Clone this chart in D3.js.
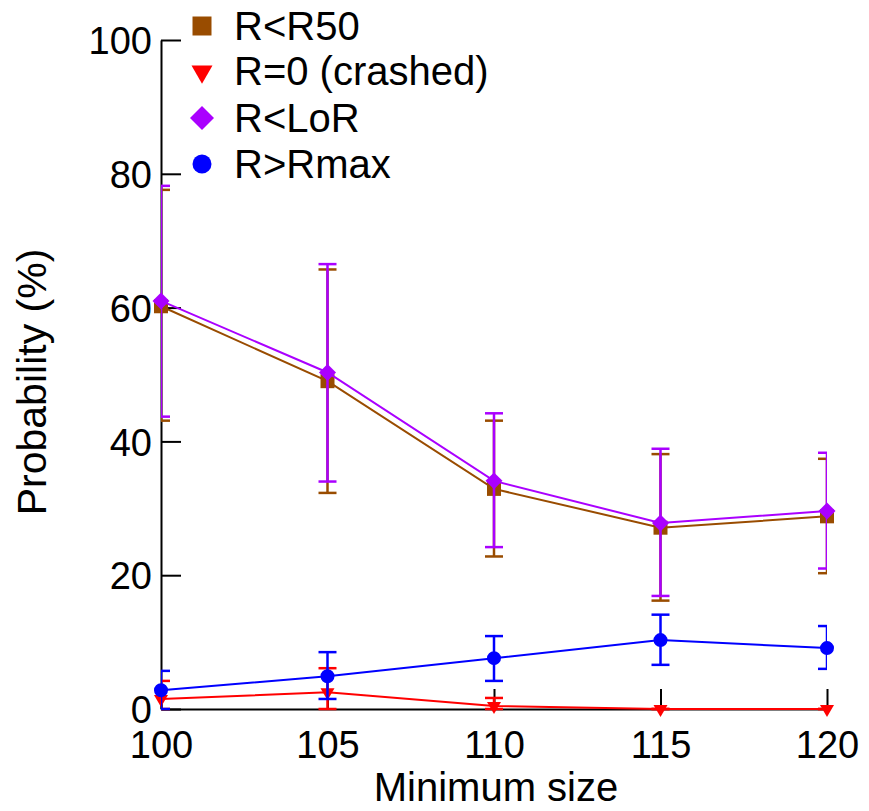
<!DOCTYPE html>
<html><head><meta charset="utf-8">
<script src="https://cdn.jsdelivr.net/npm/d3@7"></script>
<style>body{margin:0;background:#fff}svg{display:block}text{font-family:"Liberation Sans",Arial,sans-serif;fill:#000}</style>
</head><body>
<svg id="c" width="869" height="811"></svg>
<script>
const xValues = [100, 105, 110, 115, 120];
const xTicks = [100, 105, 110, 115, 120];
const yTicks = [0, 20, 40, 60, 80, 100];

const r50Mean = [60.2, 49.0, 32.9, 27.1, 28.8];
const r50Lo   = [43.1, 32.3, 22.8, 16.2, 20.3];
const r50Hi   = [77.6, 65.7, 43.1, 38.1, 37.4];

const crashMean = [1.5, 2.5, 0.45, 0, 0];
const crashLo   = [0, 0, 0, 0, 0];
const crashHi   = [4.2, 6.1, 1.65, 0, 0];

const lorMean = [61.0, 50.3, 34.1, 27.8, 29.6];
const lorLo   = [43.7, 34.0, 24.2, 16.9, 21.0];
const lorHi   = [78.2, 66.5, 44.2, 38.9, 38.3];

const rmaxMean = [2.8, 4.9, 7.6, 10.3, 9.1];
const rmaxLo   = [0, 1.5, 4.2, 6.6, 6.0];
const rmaxHi   = [5.7, 8.5, 10.9, 14.1, 12.4];

const seriesNames = ["R<R50", "R=0 (crashed)", "R<LoR", "R>Rmax"];

const series = [
  {name: seriesNames[0], mean: r50Mean, lo: r50Lo, hi: r50Hi, color: "#994C00", shape: "square"},
  {name: seriesNames[1], mean: crashMean, lo: crashLo, hi: crashHi, color: "#FF0000", shape: "triangle"},
  {name: seriesNames[2], mean: lorMean, lo: lorLo, hi: lorHi, color: "#AA00FF", shape: "diamond"},
  {name: seriesNames[3], mean: rmaxMean, lo: rmaxLo, hi: rmaxHi, color: "#0000FF", shape: "circle"}
];

const W = 869, H = 811;
const m = {left: 161, right: 42, top: 40, bottom: 102};
const svg = d3.select("#c");
const x = d3.scaleLinear().domain([100, 120]).range([m.left, W - m.right]);
const y = d3.scaleLinear().domain([0, 100]).range([H - m.bottom, m.top]);

function symPath(shape, big) {
  if (shape === "square") return d3.symbol(d3.symbolSquare, big ? 361 : 196)();
  if (shape === "circle") return d3.symbol(d3.symbolCircle, big ? 283 : 154)();
  if (shape === "diamond") return d3.symbol(d3.symbolSquare, big ? 289 : 144)();
  return d3.symbol(d3.symbolTriangle, big ? 191 : 85)();
}
function symRot(shape) {
  if (shape === "diamond") return 45;
  if (shape === "triangle") return 180;
  return 0;
}

// axes
const xAxis = d3.axisBottom(x).tickValues(xTicks).tickSizeInner(-20).tickSizeOuter(0).tickPadding(0);
const gx = svg.append("g").attr("transform", `translate(0,${y(0)})`).call(xAxis);
gx.select(".domain").attr("stroke", "#000").attr("stroke-width", 2);
gx.selectAll(".tick line").attr("stroke", "#000").attr("stroke-width", 2);
gx.selectAll(".tick text").attr("font-size", 38).attr("y", 49).attr("dy", null)
  .style("font-family", '"Liberation Sans", Arial, sans-serif');

const yAxis = d3.axisLeft(y).tickValues(yTicks).tickSizeInner(-20).tickSizeOuter(0).tickPadding(0);
const gy = svg.append("g").attr("transform", `translate(${x(100)},0)`).call(yAxis);
gy.select(".domain").attr("stroke", "#000").attr("stroke-width", 2);
gy.selectAll(".tick line").attr("stroke", "#000").attr("stroke-width", 2);
gy.selectAll(".tick text").attr("font-size", 38).attr("x", -9).attr("dy", "0.36em")
  .style("font-family", '"Liberation Sans", Arial, sans-serif');
gx.attr("font-family", null); gy.attr("font-family", null);

// titles
svg.append("text").attr("x", 496).attr("y", 801).attr("text-anchor", "middle")
  .attr("font-size", 40).text("Minimum size");
svg.append("text").attr("transform", "translate(46,382) rotate(-90)").attr("text-anchor", "middle")
  .attr("font-size", 41).text("Probability (%)");

// clip for error bars
svg.append("clipPath").attr("id", "plotclip").append("rect")
  .attr("x", m.left).attr("y", 0).attr("width", W - m.left - m.right).attr("height", H);

const line = d3.line().x(d => x(d[0])).y(d => y(d[1]));
const cap = 9;

series.forEach(s => {
  const g = svg.append("g");
  const pts = xValues.map((v, i) => [v, s.mean[i], s.lo[i], s.hi[i]]);
  const eb = g.append("g").attr("clip-path", "url(#plotclip)")
    .attr("stroke", s.color).attr("stroke-width", 2.5).attr("fill", "none");
  pts.forEach(p => {
    const cx = x(p[0]);
    eb.append("line").attr("x1", cx).attr("x2", cx).attr("y1", y(p[2])).attr("y2", y(p[3]));
    eb.append("line").attr("x1", cx - cap).attr("x2", cx + cap).attr("y1", y(p[2])).attr("y2", y(p[2]));
    eb.append("line").attr("x1", cx - cap).attr("x2", cx + cap).attr("y1", y(p[3])).attr("y2", y(p[3]));
  });
  g.append("path").attr("d", line(pts)).attr("fill", "none").attr("stroke", s.color).attr("stroke-width", 2);
  g.selectAll(".mk").data(pts).join("path").attr("class", "mk")
    .attr("d", symPath(s.shape, false))
    .attr("transform", d => `translate(${x(d[0])},${y(d[1])}) rotate(${symRot(s.shape)})`)
    .attr("fill", s.color);
});

// legend
const legY = [26, 71.5, 118, 164];
const legBase = [40, 85, 132, 178];
series.forEach((s, i) => {
  svg.append("path").attr("d", symPath(s.shape, true))
    .attr("transform", `translate(202,${legY[i]}) rotate(${symRot(s.shape)})`)
    .attr("fill", s.color);
  svg.append("text").attr("x", 234).attr("y", legBase[i]).attr("font-size", 40).text(s.name);
});
</script>
</body></html>
